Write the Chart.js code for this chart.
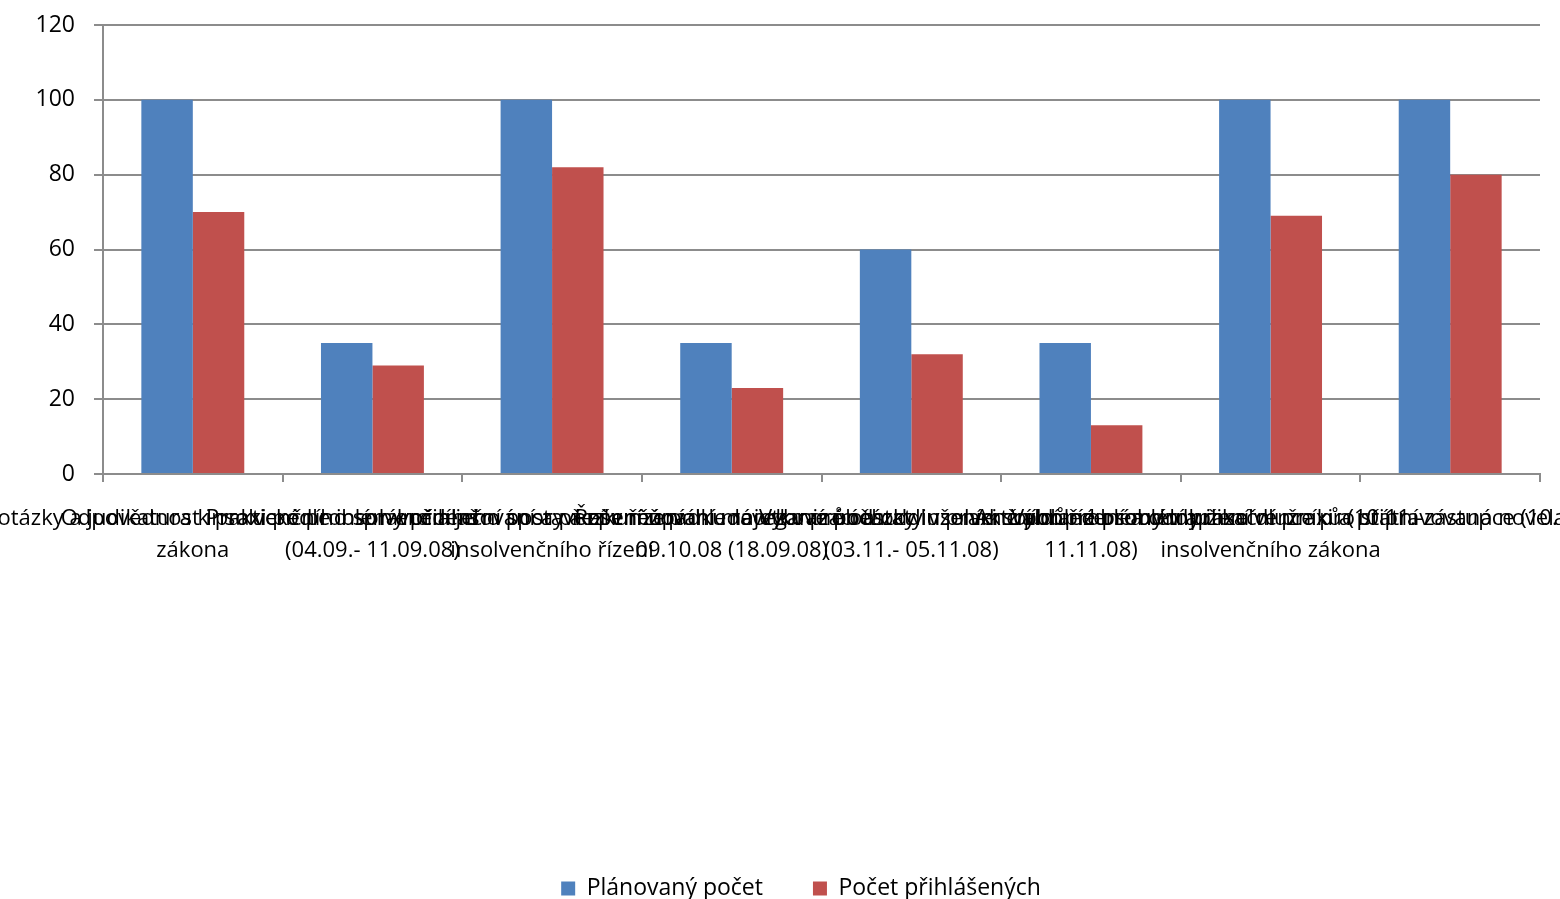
<!DOCTYPE html>
<html lang="cs">
<head>
<meta charset="utf-8">
<title>Plánovaný počet a počet přihlášených</title>
<script src="https://cdn.jsdelivr.net/npm/chart.js@4.4.1/dist/chart.umd.min.js"></script>
<style>
  html, body { margin: 0; padding: 0; background: #ffffff; }
  #wrap { position: relative; width: 1560px; height: 899px; }
</style>
</head>
<body>
<div id="wrap"><canvas id="graf"></canvas></div>
<script>
// popisky kategorií (dva řádky, jak jsou v originálu)
const kategorie = [
  ["Aktuální otázky a judikatura k praxi podle insolvenčního", "zákona"],
  ["Odpovědnost insolvenčního správce a jeho postavení v řízení", "(04.09.- 11.09.08)"],
  ["Praktické problémy přihlašování a přezkumu pohledávek v průběhu", "insolvenčního řízení"],
  ["Incidenční spory a zpeněžování majetkové podstaty v praxi soudů", "09.10.08 (18.09.08)"],
  ["Řešení úpadku reorganizací a oddlužením z pohledu soudní praxe", "(03.11.- 05.11.08)"],
  ["Vybrané otázky insolvenčního řízení a oddlužení dlužníků (10.11.-", "11.11.08)"],
  ["Aktuální problémy v aplikační praxi a připravovaná novela", "insolvenčního zákona"],
  ["Vybrané problémy insolvence pro státní zástupce (10.12.08) z hlediska trestního práva"],
];

const planovanyPocet = [100, 35, 100, 35, 60, 35, 100, 100];
const pocetPrihlasenych = [70, 29, 82, 23, 32, 13, 69, 80];

const nazvySerii = ["Plánovaný počet", "Počet přihlášených"];
const barvy = ["#4F81BD", "#C0504D"];

const osaYMin = 0;
const osaYMax = 120;
const osaYKrok = 20;

const pismo = "'Open Sans', 'Noto Sans', sans-serif";
const seda = "#8c8c8c";

// legenda je v originálu trochu vpravo od středu
const posunLegendy = {
  id: "posunLegendy",
  afterLayout(chart) {
    if (chart.legend) {
      chart.legend.left += 31;
      chart.legend.right += 31;
    }
  },
};

const ctx = document.getElementById("graf").getContext("2d");

new Chart(ctx, {
  type: "bar",
  data: {
    labels: kategorie,
    datasets: [
      {
        label: nazvySerii[0],
        data: planovanyPocet,
        backgroundColor: barvy[0],
        borderWidth: 0,
      },
      {
        label: nazvySerii[1],
        data: pocetPrihlasenych,
        backgroundColor: barvy[1],
        borderWidth: 0,
      },
    ],
  },
  options: {
    responsive: true,
    maintainAspectRatio: false,
    animation: false,
    devicePixelRatio: 1,
    layout: {
      padding: { top: 25, right: 20, bottom: -11, left: 0 },
    },
    datasets: {
      bar: {
        categoryPercentage: 0.573,
        barPercentage: 1,
      },
    },
    scales: {
      x: {
        grid: {
          display: true,
          drawOnChartArea: false,
          drawTicks: true,
          tickLength: 8,
          offset: true,
          color: seda,
          lineWidth: 2,
        },
        border: { display: true, color: seda, width: 2 },
        ticks: {
          autoSkip: false,
          maxRotation: 0,
          minRotation: 0,
          padding: 21,
          color: "#000000",
          font: { family: pismo, size: 22, lineHeight: 1.45 },
        },
        afterFit(scale) {
          scale.paddingLeft = 0;
          scale.paddingRight = 0;
          scale.height = 353;
        },
      },
      y: {
        min: osaYMin,
        max: osaYMax,
        grid: {
          color: seda,
          lineWidth: 2,
          drawTicks: true,
          tickLength: 9,
        },
        border: { display: true, color: seda, width: 2 },
        ticks: {
          stepSize: osaYKrok,
          padding: 19,
          color: "#000000",
          font: { family: pismo, size: 23 },
        },
        afterFit(scale) {
          scale.width = 103;
          scale.paddingTop = 0;
          scale.paddingBottom = 0;
        },
      },
    },
    plugins: {
      legend: {
        position: "bottom",
        labels: {
          boxWidth: 14,
          boxHeight: 14,
          padding: 50,
          color: "#000000",
          font: { family: pismo, size: 23 },
        },
      },
      tooltip: { enabled: false },
    },
  },
  plugins: [posunLegendy],
});
</script>
</body>
</html>
